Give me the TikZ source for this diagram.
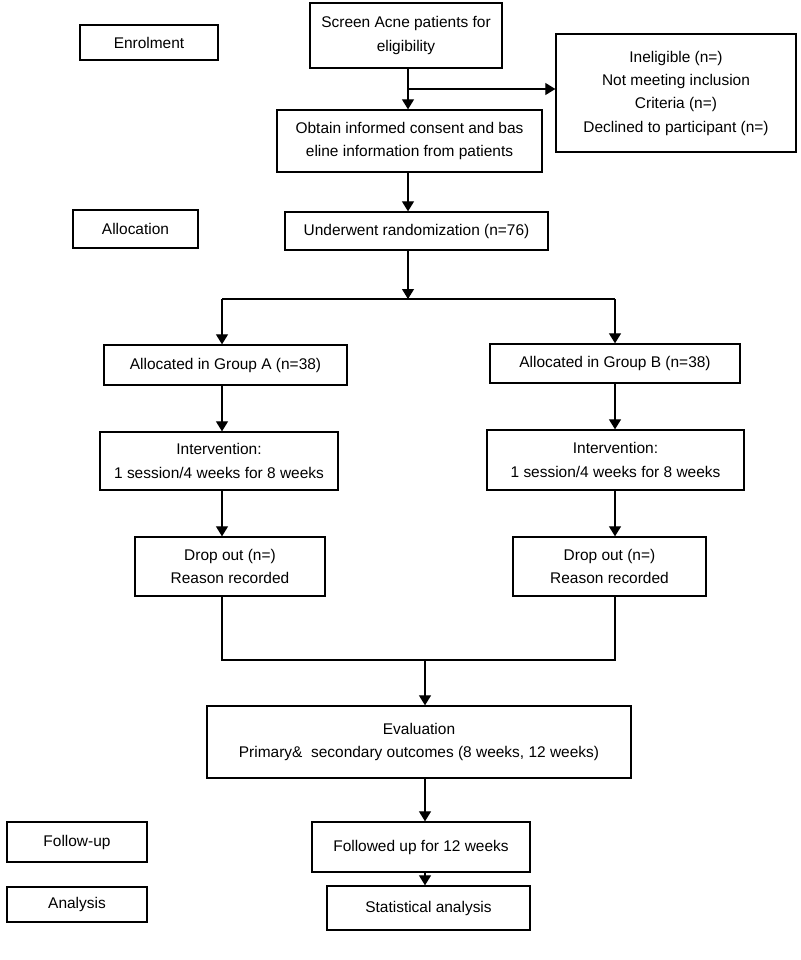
\documentclass[tikz,border=0pt]{standalone}
\usepackage{fontspec}
\setmainfont{Liberation Sans}
\usetikzlibrary{arrows.meta}
\begin{document}
\begin{tikzpicture}[x=0.75pt,y=-0.75pt,
  box/.style={draw,line width=1pt,align=center,inner sep=0pt,font=\fontsize{11.6}{17.5}\selectfont},
  arr/.style={line width=0.9pt,-{Triangle[width=9pt,length=7.5pt]}},
  ln/.style={line width=0.9pt}]
\useasboundingbox (0,0) rectangle (800,960);
\coordinate (cA) at (408,0);
\coordinate (cB) at (425,0);
\node[box,minimum width=138*0.75pt,minimum height=35*0.75pt] (enrol) at (149,42.5) {Enrolment};
\node[box,minimum width=192*0.75pt,minimum height=65*0.75pt] (screen) at (406,35.5) {Screen Acne patients for\\eligibility};
\node[box,minimum width=240*0.75pt,minimum height=118*0.75pt] (inel) at (676,93) {Ineligible (n=)\\Not meeting inclusion\\Criteria (n=)\\Declined to participant (n=)};
\node[box,minimum width=265*0.75pt,minimum height=62*0.75pt] (consent) at (409.5,141) {Obtain informed consent and bas\\eline information from patients};
\node[box,minimum width=125*0.75pt,minimum height=38*0.75pt] (alloc) at (135.5,229) {Allocation};
\node[box,minimum width=263*0.75pt,minimum height=38*0.75pt] (rand) at (416.5,231) {Underwent randomization (n=76)};
\node[box,minimum width=243*0.75pt,minimum height=40*0.75pt] (gA) at (225.5,365) {Allocated in Group A (n=38)};
\node[box,minimum width=250*0.75pt,minimum height=39*0.75pt] (gB) at (615,363.5) {Allocated in Group B (n=38)};
\node[box,minimum width=238*0.75pt,minimum height=58*0.75pt] (iA) at (219,461) {Intervention:\\1 session/4 weeks for 8 weeks};
\node[box,minimum width=257*0.75pt,minimum height=60*0.75pt] (iB) at (615.5,460) {Intervention:\\1 session/4 weeks for 8 weeks};
\node[box,minimum width=190*0.75pt,minimum height=59*0.75pt] (dA) at (230,566.5) {Drop out (n=)\\Reason recorded};
\node[box,minimum width=193*0.75pt,minimum height=59*0.75pt] (dB) at (609.5,566.5) {Drop out (n=)\\Reason recorded};
\node[box,minimum width=424*0.75pt,minimum height=72*0.75pt] (eval) at (419,742) {Evaluation\\Primary\&\ \ secondary outcomes (8 weeks, 12 weeks)};
\node[box,minimum width=140*0.75pt,minimum height=40*0.75pt] (fu) at (77,842) {Follow-up};
\node[box,minimum width=218*0.75pt,minimum height=50*0.75pt] (fol) at (421,847) {Followed up for 12 weeks};
\node[box,minimum width=140*0.75pt,minimum height=35*0.75pt] (an) at (77,904.5) {Analysis};
\node[box,minimum width=203*0.75pt,minimum height=44*0.75pt] (st) at (428.5,908) {Statistical analysis};
\coordinate (j1) at (408,89);
\coordinate (sp) at (408,299);
\coordinate (spL) at (222,299);
\coordinate (spR) at (615,299);
\coordinate (mL) at (222,660);
\coordinate (mR) at (615,660);
\coordinate (mC) at (425,660);
\draw[arr] (screen.south -| cA) -- (consent.north -| cA);
\draw[arr] (j1) -- (j1 -| inel.west);
\draw[arr] (consent.south -| cA) -- (rand.north -| cA);
\draw[arr] (rand.south -| cA) -- (sp);
\draw[ln] (spL) -- (spR);
\draw[arr] (spL) -- (gA.north -| spL);
\draw[arr] (spR) -- (gB.north -| spR);
\draw[arr] (gA.south -| spL) -- (iA.north -| spL);
\draw[arr] (gB.south -| spR) -- (iB.north -| spR);
\draw[arr] (iA.south -| spL) -- (dA.north -| spL);
\draw[arr] (iB.south -| spR) -- (dB.north -| spR);
\draw[ln] (dA.south -| mL) -- (mL) -- (mR) -- (dB.south -| mR);
\draw[arr] (mC) -- (eval.north -| mC);
\draw[arr] (eval.south -| cB) -- (fol.north -| cB);
\draw[arr] (fol.south -| cB) -- (st.north -| cB);
\end{tikzpicture}
\end{document}
